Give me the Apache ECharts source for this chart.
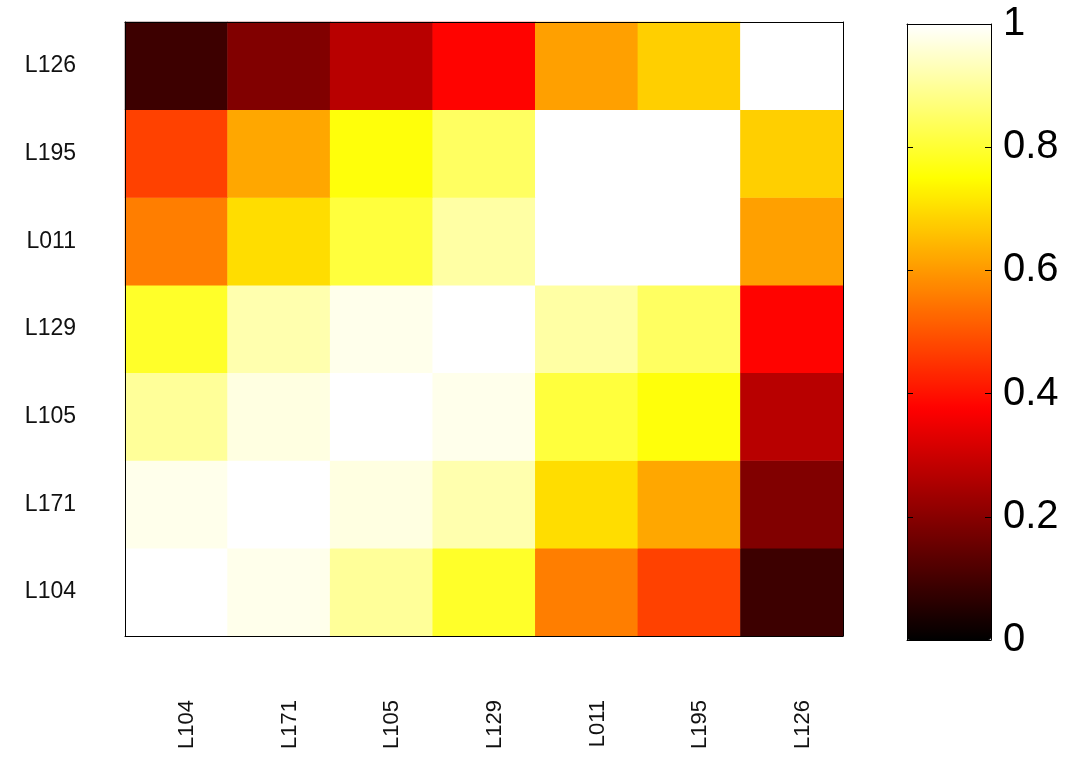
<!DOCTYPE html>
<html>
<head>
<meta charset="utf-8">
<script src="https://cdn.jsdelivr.net/npm/echarts@6/dist/echarts.min.js"></script>
<style>
html,body{margin:0;padding:0;background:#fff;}
#chart{width:1084px;height:763px;}
</style>
</head>
<body>
<div id="chart"></div>
<script>
// Categories (x: left to right, y: bottom to top)
const labels = ['L104','L171','L105','L129','L011','L195','L126'];
// Rows of the matrix, one per y category, values per x category (left to right)
const rowL104 = [1.00, 0.98, 0.90, 0.79, 0.56, 0.47, 0.09];
const rowL171 = [0.98, 1.00, 0.97, 0.92, 0.70, 0.62, 0.19];
const rowL105 = [0.90, 0.97, 1.00, 0.98, 0.81, 0.76, 0.27];
const rowL129 = [0.79, 0.92, 0.98, 1.00, 0.91, 0.845, 0.38];
const rowL011 = [0.56, 0.70, 0.81, 0.91, 1.00, 1.00, 0.61];
const rowL195 = [0.47, 0.62, 0.76, 0.845, 1.00, 1.00, 0.68];
const rowL126 = [0.09, 0.19, 0.27, 0.38, 0.61, 0.68, 1.00];
const rows = [rowL104, rowL171, rowL105, rowL129, rowL011, rowL195, rowL126];
// Colour bar tick values
const barTicks = [0, 0.2, 0.4, 0.6, 0.8, 1];
// 'hot' colormap stops at 1/8 steps
const hotColors = ['#000000','#550000','#aa0000','#ff0000','#ff5500','#ffaa00','#ffff00','#ffff80','#ffffff'];

const data = [];
rows.forEach((row, yi) => row.forEach((v, xi) => data.push([xi, yi, v])));

const FONT = 'Liberation Sans';
const chart = echarts.init(document.getElementById('chart'), null, {renderer:'canvas'});
const line = {show:true, onZero:false, lineStyle:{color:'#000', width:1}};
const barTick = {show:true, inside:true, length:6, lineStyle:{color:'#000'}};
chart.setOption({
  animation:false,
  backgroundColor:'#fff',
  grid:[
    {left:125, top:22, width:718, height:614, containLabel:false},
    {left:907, top:24, width:84, height:616, containLabel:false}
  ],
  xAxis:[
    {type:'category', gridIndex:0, data:labels, position:'bottom', z:10,
     axisLine:line, axisTick:{show:false}, splitLine:{show:false},
     axisLabel:{rotate:90, fontSize:22, fontFamily:FONT, color:'#111', margin:64, verticalAlign:'top'}},
    {type:'category', gridIndex:0, data:labels, position:'top', z:10,
     axisLine:line, axisTick:{show:false}, axisLabel:{show:false}},
    {type:'value', gridIndex:1, min:0, max:1, position:'bottom', zlevel:1, z:10,
     axisLine:line, axisTick:{show:false}, axisLabel:{show:false}, splitLine:{show:false}},
    {type:'value', gridIndex:1, min:0, max:1, position:'top', zlevel:1, z:10,
     axisLine:line, axisTick:{show:false}, axisLabel:{show:false}, splitLine:{show:false}}
  ],
  yAxis:[
    {type:'category', gridIndex:0, data:labels, position:'left', z:10,
     axisLine:line, axisTick:{show:false}, splitLine:{show:false},
     axisLabel:{fontSize:23, fontFamily:FONT, color:'#111', margin:49}},
    {type:'category', gridIndex:0, data:labels, position:'right', z:10,
     axisLine:line, axisTick:{show:false}, axisLabel:{show:false}},
    {type:'value', gridIndex:1, min:0, max:1, interval:0.2, position:'right', zlevel:1, z:10,
     axisLine:line, splitLine:{show:false}, axisTick:barTick,
     axisLabel:{fontSize:40, fontFamily:FONT, color:'#000', margin:12,
       formatter:(v)=>{const t=barTicks.find(b=>Math.abs(b-v)<1e-6); return t===undefined?'':String(t);}}},
    {type:'value', gridIndex:1, min:0, max:1, interval:0.2, position:'left', zlevel:1, z:10,
     axisLine:line, splitLine:{show:false}, axisTick:barTick, axisLabel:{show:false}}
  ],
  visualMap:{
    type:'continuous', min:0, max:1, calculable:false, hoverLink:false,
    left:907, top:24, itemWidth:84, itemHeight:616, padding:0, z:1,
    orient:'vertical', inRange:{color:hotColors}, seriesIndex:0,
    textStyle:{color:'transparent'}, text:null
  },
  series:[{
    type:'heatmap', xAxisIndex:0, yAxisIndex:0, data:data,
    itemStyle:{borderWidth:0}, emphasis:{disabled:true}, progressive:0
  }]
});
</script>
</body>
</html>
